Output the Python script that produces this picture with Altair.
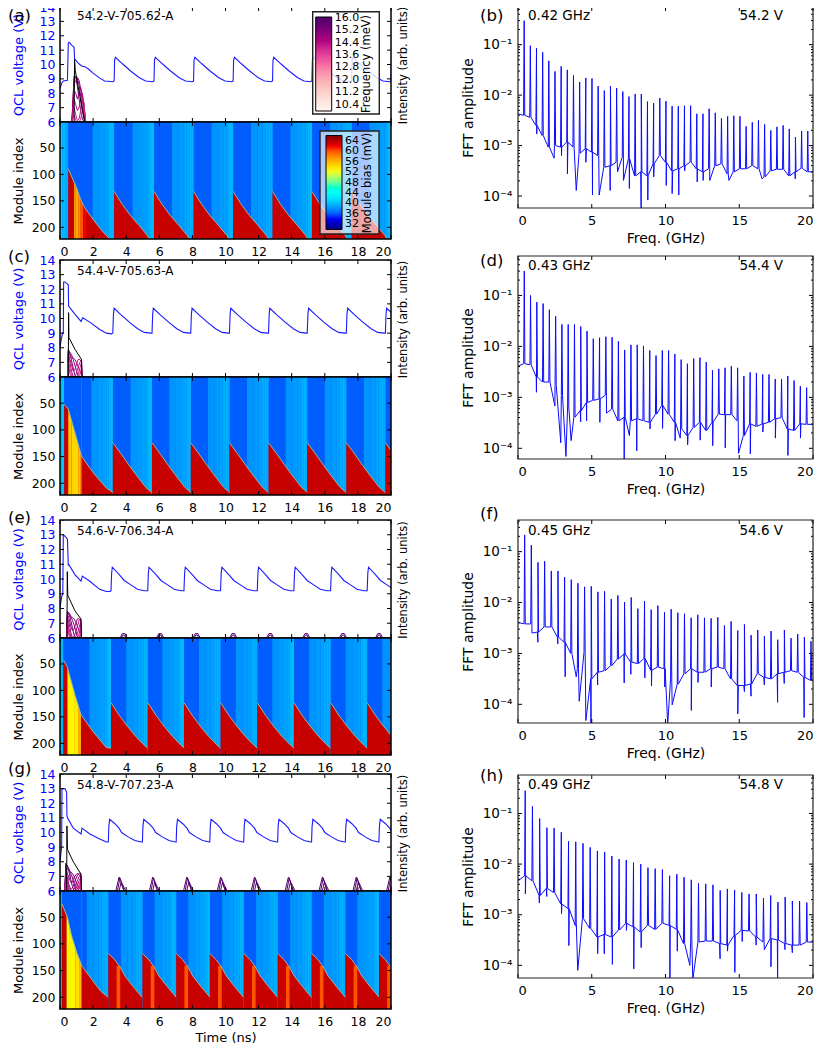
import altair as alt
import pandas as pd

FONT = "DejaVu Sans"
BLUE_LINE = "#1a1aff"
HEAT_BLUE = "#005eff"
HEAT_RED = "#c70000"
EDGE = "#93b9a6"
JET = ["#00007f", "#0000ff", "#00ffff", "#ffff00", "#ff0000", "#7f0000"]
JET_DOM = [30, 34.5, 43.5, 52.5, 61.5, 66]
RDPU = ["#fff7f3", "#fde0dd", "#fcc5c0", "#fa9fb5", "#f768a1", "#dd3497", "#ae017e", "#7a0177", "#49006a"]
W, FW = 331, 295
T_TICKS = [0, 2, 4, 6, 8, 10, 12, 14, 16, 18, 20]
V_TICKS = [6, 7, 8, 9, 10, 11, 12, 13, 14]
M_TICKS = [50, 100, 150, 200]
F_TICKS = [0, 5, 10, 15, 20]
DECADES = [0.1, 0.01, 0.001, 0.0001]
MINORS = [m * d for d in [0.1, 0.01, 0.001, 0.0001] for m in [2, 3, 4, 5, 6, 7, 8, 9]]
STRIPE_BACK = [1.3, 0.9, 0.6, 0.4, 0.25, 0.12, 0.05]
STRIPE_MV = [38.2, 38.5, 38.8, 39.2, 39.7, 40.2, 40.6]

# ---------- left column ----------
A = dict(
    tag="(a)", name="54.2-V-705.62-A", hv=115, hh=117, tagy=9, namey=9, period=2.39,
    jumps=[3.27, 5.68, 8.07, 10.46, 12.84, 15.22, 17.62, 20.0],
    st=[0, 0.1, 0.2, 0.45, 0.5, 0.55, 0.75, 0.85, 0.88, 1.1, 1.3, 1.5, 1.7, 2, 2.4, 2.7, 3.2],
    sv=[8.3, 8.7, 8.85, 8.9, 11.5, 11.55, 11.3, 11.2, 10.4, 10.1, 9.9, 9.85, 9.7, 9.4, 9.05, 8.85, 8.8],
    dt=[0, 0.03, 0.08, 0.5, 1.0, 1.5, 1.9, 2.3],
    dv=[8.85, 10.3, 10.5, 10.05, 9.55, 9.1, 8.85, 8.8],
    black_t=[0.85, 0.88, 0.92, 1.2, 1.5, 1.56], black_v=[6, 10.4, 9.6, 7.8, 6, 6],
    it=[0.72, 0.85, 0.95, 1.05, 1.15, 1.25, 1.35, 1.45, 1.55],
    il=[[6, 9.2, 9.1, 8.5, 7.6, 6.8, 6.2, 6, 6], [6, 9, 9.2, 9.0, 8.6, 7.8, 6.9, 6.2, 6],
        [6, 8.7, 8.8, 9.1, 8.9, 8.3, 7.5, 6.6, 6], [6, 8.2, 8.0, 7.6, 8, 8.4, 7.9, 7, 6],
        [6, 7.6, 7.2, 6.8, 7, 7.6, 8, 7.2, 6], [6, 7.0, 6.5, 6.1, 6.2, 6.8, 7.5, 7.4, 6],
        [6, 6.5, 6.1, 6, 6, 6.2, 6.8, 7, 6]],
    ifreq=[15.6, 15.2, 14.8, 14.6, 14.4, 14.2, 14.0],
    bumps=[], bump_dt=[], bump_v=[],
    front_t=[0.5, 0.8, 1.0, 1.2, 1.4, 1.7, 2, 2.5, 3.0], front_y=[89, 111, 125, 143, 158, 172, 185, 205, 222],
    tooth_dt=[0, 0.5, 1, 1.5, 2, 2.15], tooth_y=[132, 157, 178, 196, 215, 222],
    start_stripes=[(0, 0.15, 41), (0.15, 0.3, 40), (0.3, 0.5, 39.2)],
    bands=[(0.85, 0.95, 57), (0.95, 1.1, 56.5), (1.1, 1.25, 58), (1.25, 1.4, 60), (1.4, 1.6, 62)],
    hot=[],
)
C = dict(
    tag="(c)", name="54.4-V-705.63-A", hv=117, hh=118, tagy=-3, namey=11, period=2.34,
    jumps=[3.19, 5.56, 7.9, 10.24, 12.6, 14.94, 17.3, 19.66],
    st=[0, 0.05, 0.15, 0.2, 0.22, 0.3, 0.5, 0.52, 0.9, 1.27, 1.37, 1.8, 2.4, 2.8, 3.1],
    sv=[8.0, 8.4, 9.0, 9.0, 12.5, 12.5, 12.3, 10.85, 10.3, 9.8, 10.05, 9.75, 9.25, 9.0, 8.95],
    dt=[0, 0.04, 0.08, 0.5, 1.0, 1.5, 1.9, 2.29],
    dv=[9.0, 10.3, 10.7, 10.25, 9.75, 9.3, 9.05, 9.0],
    black_t=[0.5, 0.52, 0.54, 0.9, 1.3, 1.33], black_v=[6, 10.4, 8.7, 7.9, 7.2, 6],
    it=[0.47, 0.5, 0.6, 0.7, 0.8, 0.9, 1.0, 1.1, 1.2, 1.3, 1.33],
    il=[[6, 7.9, 7.6, 7.1, 6.6, 6.1, 6, 6, 6, 6, 6], [6, 7.8, 7.7, 7.5, 7.2, 6.8, 6.4, 6.1, 6, 6, 6],
        [6, 7.7, 7.5, 7.3, 7.3, 7.2, 7, 6.7, 6.4, 6.1, 6], [6, 7.6, 7.2, 6.8, 6.4, 6.5, 6.9, 7.2, 7.2, 7, 6],
        [6, 7.4, 7, 6.4, 6, 6, 6.3, 6.7, 7, 7.2, 6], [6, 7.2, 6.6, 6.1, 6, 6, 6, 6.2, 6.6, 7, 6],
        [6, 7.0, 6.2, 6, 6, 6, 6, 6, 6.2, 6.6, 6]],
    ifreq=[15.4, 15.0, 14.7, 14.5, 14.3, 14.1, 13.9],
    bumps=[], bump_dt=[], bump_v=[],
    front_t=[0.25, 0.5, 0.9, 1.3, 2.0, 2.8, 3.19], front_y=[52, 61, 105, 149, 180, 209, 217],
    tooth_dt=[0, 0.5, 1, 1.5, 2, 2.34], tooth_y=[124, 145, 167, 188, 208, 217],
    start_stripes=[(0, 0.1, 41.5), (0.1, 0.25, 40.5)],
    bands=[(0.5, 0.7, 55), (0.7, 1.1, 54.5), (1.1, 1.22, 55.5), (1.22, 1.3, 57)],
    hot=[],
)
E = dict(
    tag="(e)", name="54.6-V-706.34-A", hv=118, hh=117, tagy=-2, namey=11, period=2.21,
    jumps=[3.08, 5.3, 7.49, 9.7, 11.92, 14.13, 16.35, 18.56],
    st=[0, 0.1, 0.17, 0.2, 0.3, 0.45, 0.5, 0.52, 0.9, 1.27, 1.35, 1.8, 2.4, 2.8, 3.0],
    sv=[8.0, 8.8, 9.0, 13.0, 12.9, 12.7, 10.9, 11.0, 10.3, 9.85, 10.2, 9.85, 9.3, 9.15, 9.15],
    dt=[0, 0.04, 0.08, 0.5, 0.8, 1.2, 1.6, 2.0, 2.17],
    dv=[9.2, 10.4, 10.8, 10.3, 9.9, 9.6, 9.3, 9.2, 9.2],
    black_t=[0.42, 0.44, 0.47, 0.9, 1.27, 1.3], black_v=[6, 10.5, 8.9, 7.85, 7.28, 6],
    it=[0.4, 0.45, 0.55, 0.65, 0.75, 0.85, 0.95, 1.05, 1.15, 1.25, 1.3],
    il=[[6, 7.8, 7.6, 7.2, 6.7, 6.2, 6, 6, 6, 6, 6], [6, 7.8, 7.7, 7.5, 7.2, 6.9, 6.5, 6.1, 6, 6, 6],
        [6, 7.7, 7.6, 7.4, 7.4, 7.3, 7.1, 6.8, 6.5, 6.2, 6], [6, 7.6, 7.3, 6.8, 6.5, 6.6, 7, 7.3, 7.3, 7.2, 6],
        [6, 7.4, 7, 6.4, 6, 6.1, 6.4, 6.8, 7.2, 7.3, 6], [6, 7.2, 6.6, 6.1, 6, 6, 6.1, 6.3, 6.7, 7.1, 6],
        [6, 7.0, 6.3, 6, 6, 6, 6, 6, 6.3, 6.8, 6], [6, 6.8, 6.1, 6, 6, 6, 6, 6, 6, 6.4, 6]],
    ifreq=[15.6, 15.3, 15.0, 14.8, 14.6, 14.4, 14.2, 14.0],
    bumps=[3.85, 6.05, 8.25, 10.47, 12.7, 14.88, 17.1, 19.28],
    bump_dt=[[-0.22, -0.08, 0.08, 0.22], [-0.14, -0.05, 0.05, 0.14]],
    bump_v=[[6, 6.3, 6.3, 6], [6, 6.2, 6.2, 6]],
    front_t=[0.2, 0.45, 0.9, 1.27, 2.0, 2.8, 3.08], front_y=[42, 57, 108, 146, 178, 208, 209],
    tooth_dt=[0, 0.5, 1, 1.5, 2, 2.21], tooth_y=[123, 147, 168, 187, 203, 209],
    start_stripes=[(0, 0.1, 41), (0.1, 0.2, 40)],
    bands=[(0.45, 0.9, 53), (0.9, 1.1, 53.5), (1.1, 1.2, 55), (1.2, 1.27, 56.5)],
    hot=[],
)
G = dict(
    tag="(g)", name="54.8-V-707.23-A", hv=117, hh=118, tagy=-5, namey=11, period=2.04,
    jumps=[2.92, 4.98, 7.02, 9.05, 11.1, 13.15, 15.2, 17.24, 19.27],
    st=[0, 0.1, 0.12, 0.3, 0.4, 0.42, 0.45, 0.8, 1.27, 1.33, 1.8, 2.4, 2.8, 2.9],
    sv=[8.0, 9.0, 13.0, 13.0, 12.75, 11.15, 11.0, 10.3, 9.9, 10.3, 9.9, 9.55, 9.35, 9.35],
    dt=[0, 0.03, 0.08, 0.4, 0.65, 0.8, 1.2, 1.6, 2.0],
    dv=[9.35, 10.4, 10.9, 10.6, 10.3, 10.0, 9.7, 9.45, 9.35],
    black_t=[0.4, 0.42, 0.45, 0.8, 1.27, 1.3], black_v=[6, 10.45, 8.85, 8.0, 7.15, 6],
    it=[0.3, 0.35, 0.45, 0.55, 0.65, 0.75, 0.85, 0.95, 1.05, 1.15, 1.25, 1.3],
    il=[[6, 7.9, 7.7, 7.3, 6.8, 6.3, 6, 6, 6, 6, 6, 6], [6, 7.8, 7.7, 7.5, 7.2, 6.9, 6.5, 6.1, 6, 6, 6, 6],
        [6, 7.6, 7.5, 7.4, 7.3, 7.2, 7.0, 6.7, 6.4, 6.2, 6.1, 6], [6, 7.5, 7.2, 6.9, 6.6, 6.6, 6.9, 7.1, 7.2, 7.1, 7.0, 6],
        [6, 7.3, 6.9, 6.4, 6.1, 6.2, 6.5, 6.8, 7.1, 7.2, 7.2, 6], [6, 7.1, 6.6, 6.2, 6, 6, 6.1, 6.4, 6.7, 7, 7.1, 6],
        [6, 6.9, 6.3, 6, 6, 6, 6, 6.1, 6.4, 6.7, 6.9, 6], [6, 6.7, 6.1, 6, 6, 6, 6, 6, 6.1, 6.4, 6.7, 6],
        [6, 6.5, 6, 6, 6, 6, 6, 6, 6, 6.2, 6.5, 6], [6, 6.3, 6.6, 6.9, 7.1, 7.0, 6.7, 6.4, 6.2, 6.1, 6.3, 6]],
    ifreq=[15.8, 15.6, 15.4, 15.2, 15.0, 14.8, 14.6, 14.4, 14.2, 14.0],
    bumps=[3.57, 5.6, 7.66, 9.7, 11.75, 13.8, 15.85, 17.9, 19.93],
    bump_dt=[[-0.2, 0, 0.15, 0.4], [-0.1, 0.05, 0.2, 0.3], [0, 0.12, 0.3]],
    bump_v=[[6, 6.95, 6.6, 6], [6, 6.9, 6.3, 6], [6, 6.6, 6]],
    front_t=[0.12, 0.2, 0.45, 0.7, 1.0, 1.3, 2, 2.5, 2.92], front_y=[25, 31, 50, 85, 115, 140, 170, 190, 200],
    tooth_dt=[0, 0.4, 0.7, 1, 1.5, 2.04], tooth_y=[118, 130, 143, 160, 180, 200],
    start_stripes=[(0, 0.1, 41), (0.1, 0.2, 40)],
    bands=[(0.4, 0.6, 52.5), (0.6, 0.95, 53), (0.95, 1.15, 54), (1.15, 1.3, 56)],
    hot=[(0.5, 0.72, 141, 60)],
)

# ---------- right column (log10 values) ----------
B = dict(
    tag="(b)", tagy=9, f0=0.418, ghz="0.42 GHz", volt="54.2 V", h=201, dom=[-4.237, -0.254], texty=9,
    start=-2.37,
    peaks=[-.525, -1.02, -1.07, -1.15, -1.32, -1.53, -1.43, -1.50, -1.61, -1.74, -1.66, -1.67, -1.82, -1.91, -1.82, -1.86,
           -1.93, -2.03, -1.98, -1.98, -2.13, -2.16, -2.06, -2.12, -2.22, -2.22, -2.21, -2.21, -2.37, -2.37, -2.27, -2.35,
           -2.46, -2.42, -2.41, -2.42, -2.62, -2.54, -2.50, -2.58, -2.70, -2.63, -2.60, -2.67, -2.83, -2.71, -2.71],
    floors=[-2.4, -2.44, -2.6, -2.8, -3.03, -3.0, -3.03, -2.93, -3.03, -3.15, -3.06, -3.13, -3.2, -3.43, -3.4, -3.33,
            -3.23, -3.26, -3.6, -3.52, -3.6, -3.36, -3.2, -3.33, -3.5, -3.46, -3.4, -3.33, -3.46, -3.52, -3.46, -3.4,
            -3.36, -3.56, -3.52, -3.46, -3.46, -3.4, -3.46, -3.62, -3.5, -3.47, -3.47, -3.6, -3.52, -3.45, -3.52],
    dip_f=[1.27, 2.45, 2.95, 3.35, 3.95, 4.6, 5.05, 5.5, 6.25, 6.75, 7.15, 7.55, 8.35, 8.8, 9.2, 10.05, 10.45, 10.9, 11.3,
           12.15, 12.55, 13, 14.3, 16.55, 18.8],
    dip_v=[-2.77, -3.25, -3.2, -3.56, -3.89, -3.33, -3.98, -3.98, -3.89, -3.52, -3.69, -3.85, -4.25, -4.08, -3.62, -3.79,
           -3.95, -3.98, -3.5, -3.72, -3.69, -3.69, -3.69, -3.66, -3.66],
)
D = dict(
    tag="(d)", tagy=5, f0=0.4254, ghz="0.43 GHz", volt="54.4 V", h=203, dom=[-4.21, -0.226], texty=10,
    start=-2.39,
    peaks=[-.52, -1.0, -1.13, -1.16, -1.28, -1.41, -1.57, -1.57, -1.57, -1.61, -1.70, -1.85, -1.83, -1.81, -1.82, -1.90,
           -2.07, -1.97, -1.97, -1.99, -2.08, -2.18, -2.08, -2.08, -2.15, -2.26, -2.34, -2.24, -2.22, -2.31, -2.47, -2.44,
           -2.42, -2.39, -2.42, -2.58, -2.51, -2.52, -2.55, -2.55, -2.64, -2.64, -2.58, -2.67, -2.78, -2.81],
    floors=[-2.34, -2.36, -2.6, -2.7, -2.7, -2.77, -2.96, -3.19, -3.39, -3.26, -3.1, -3.06, -3.03, -2.96, -3.23, -3.46,
            -3.39, -3.46, -3.42, -3.46, -3.49, -3.33, -3.16, -3.33, -3.49, -3.62, -3.75, -3.59, -3.49, -3.65, -3.49, -3.33,
            -3.34, -3.34, -3.46, -3.75, -3.52, -3.57, -3.52, -3.49, -3.42, -3.4, -3.62, -3.65, -3.52, -3.53],
    dip_f=[1.25, 2.5, 2.9, 3.25, 3.6, 4.25, 4.65, 5.55, 6, 7.2, 7.55, 8.05, 8.95, 9.8, 10.65, 11, 11.5, 12.35, 13.2, 14.05,
           14.95, 15.75, 16.6, 17.45, 18.3, 19.15],
    dip_v=[-2.9, -3.17, -3.89, -4.16, -3.85, -3.48, -3.46, -3.49, -3.31, -4.21, -3.75, -4.05, -3.62, -3.61, -3.85, -3.8,
           -3.93, -3.84, -3.95, -3.99, -4.1, -4.11, -3.68, -3.8, -4.14, -3.8],
)
Fp = dict(
    tag="(f)", tagy=-6, f0=0.4515, ghz="0.45 GHz", volt="54.6 V", h=203, dom=[-4.367, -0.378], texty=11,
    start=-2.39,
    peaks=[-.67, -.87, -1.21, -1.19, -1.38, -1.38, -1.50, -1.55, -1.62, -1.69, -1.68, -1.79, -1.78, -1.93, -1.86, -1.99,
           -1.9, -2.12, -1.97, -2.14, -2.06, -2.19, -2.13, -2.2, -2.22, -2.3, -2.24, -2.3, -2.31, -2.29, -2.45, -2.37,
           -2.55, -2.43, -2.64, -2.54, -2.66, -2.56, -2.73, -2.54, -2.7, -2.62, -2.68, -2.76],
    floors=[-2.42, -2.42, -2.58, -2.48, -2.48, -2.68, -2.78, -3.0, -3.3, -2.98, -3.5, -3.37, -3.34, -3.24, -3.11, -3.01,
            -3.17, -3.2, -3.1, -3.33, -3.27, -3.3, -3.5, -3.6, -3.4, -3.3, -3.37, -3.37, -3.3, -3.27, -3.3, -3.5,
            -3.63, -3.63, -3.6, -3.4, -3.47, -3.5, -3.4, -3.37, -3.34, -3.37, -3.47, -3.53],
    dip_f=[0.95, 1.35, 2.7, 3.2, 3.95, 4.15, 4.6, 4.95, 5.4, 7.2, 7.65, 8.6, 9.05, 9.95, 10.15, 10.45, 10.85, 11.75, 12.2,
           13.1, 14.9, 15.35, 15.8, 16.7, 17.6, 18.05, 19.4],
    dip_v=[-2.6, -2.78, -2.81, -3.46, -3.46, -3.94, -4.32, -4.42, -3.62, -3.58, -3.41, -3.48, -3.64, -3.66, -4.39, -4.01,
           -3.6, -4.12, -3.57, -3.66, -4.19, -3.75, -3.84, -3.62, -3.96, -3.59, -4.26],
)
Hp = dict(
    tag="(h)", tagy=1, f0=0.4895, ghz="0.49 GHz", volt="54.8 V", h=203, dom=[-4.25, -0.24], texty=10,
    start=-2.33,
    peaks=[-.55, -.86, -1.1, -1.28, -1.29, -1.37, -1.55, -1.56, -1.59, -1.67, -1.74, -1.76, -1.84, -1.9, -1.92, -1.97,
           -2.0, -2.07, -2.09, -2.11, -2.23, -2.2, -2.26, -2.31, -2.38, -2.39, -2.41, -2.52, -2.49, -2.51, -2.56, -2.59,
           -2.59, -2.67, -2.62, -2.75, -2.65, -2.73, -2.73, -2.76],
    floors=[-2.23, -2.33, -2.62, -2.48, -2.56, -2.79, -2.88, -3.21, -3.08, -3.27, -3.44, -3.39, -3.44, -3.3, -3.17, -3.24,
            -3.34, -3.21, -3.29, -3.17, -3.21, -3.29, -3.57, -3.54, -3.54, -3.52, -3.52, -3.57, -3.6, -3.41, -3.31, -3.32,
            -3.44, -3.54, -3.47, -3.5, -3.57, -3.6, -3.6, -3.54],
    dip_f=[0.5, 1.45, 1.95, 2.95, 3.45, 3.95, 4.05, 5.4, 5.85, 6.4, 7.35, 7.85, 8.35, 10.3, 10.8, 11.65, 11.85, 13.7, 14.2,
           14.7, 15.2, 16.15, 16.7, 17.15, 17.6, 18.1, 18.6],
    dip_v=[-2.59, -2.77, -2.64, -2.98, -3.61, -3.24, -4.1, -3.77, -3.77, -3.98, -3.31, -4.07, -3.65, -4.26, -3.72, -4.0,
           -4.28, -3.87, -3.72, -4.14, -3.53, -3.6, -3.69, -4.03, -4.26, -3.69, -3.75],
)

ONE = pd.DataFrame({"a": [0]})


def value_box(x0, x1, y0, y1, **mk):
    return alt.Chart(ONE).mark_rect(**mk).encode(
        x=alt.value(x0), x2=alt.value(x1), y=alt.value(y0), y2=alt.value(y1))


def note(text, x, y, size=12, angle=0, color="black", align="left"):
    mk = dict(font=FONT, fontSize=size, color=color, align=align, baseline="middle", angle=angle)
    return alt.Chart(ONE).mark_text(**mk).encode(x=alt.value(x), y=alt.value(y), text=alt.value(text))


def xticks(vals, xs, xa, h, L=4):
    df = pd.DataFrame({"x": vals})
    return [alt.Chart(df).mark_rule(color="black", strokeWidth=1).encode(
        x=alt.X("x:Q", scale=xs, axis=xa), y=alt.value(a), y2=alt.value(b))
        for a, b in [(0, L), (h - L, h)]]


def yticks(vals, ys, ya, w, L=4):
    df = pd.DataFrame({"y": vals})
    return [alt.Chart(df).mark_rule(color="black", strokeWidth=1, clip=True).encode(
        x=alt.value(a), x2=alt.value(b), y=alt.Y("y:Q", scale=ys, axis=ya))
        for a, b in [(0, L), (w - L, w)]]


def voltage_panel(p, legend):
    H = p["hv"]
    xs = alt.Scale(domain=[0, 20], nice=False, zero=False)
    ys = alt.Scale(domain=[6, 14], nice=False, zero=False)
    ya = alt.Axis(values=V_TICKS, title="QCL voltage (V)", titleColor="#0000ff", labelColor="#0000ff", ticks=False,
                  domain=False, grid=False, labelFontSize=12.5, titleFontSize=13, labelPadding=5, titleX=-35,
                  titleFontWeight="normal", format="d", labelOverlap=False, labelBound=False)
    ts, vs = list(p["st"]), list(p["sv"])
    for j in p["jumps"]:
        for d, v in zip(p["dt"], p["dv"]):
            ts.append(j + d)
            vs.append(v)
    vdf = pd.DataFrame({"t": ts, "v": vs})
    vdf["i"] = range(len(vdf))
    rows = []
    for g, (line, fr) in enumerate(zip(p["il"], p["ifreq"])):
        for t, v in zip(p["it"], line):
            rows.append({"t": t, "v": v, "f": fr, "g": f"s{g}"})
    for c in p["bumps"]:
        for g, (dts, dvs) in enumerate(zip(p["bump_dt"], p["bump_v"])):
            for d, v in zip(dts, dvs):
                rows.append({"t": c + d, "v": v, "f": 15.9, "g": f"b{c}-{g}"})
    idf = pd.DataFrame(rows)
    idf["i"] = range(len(idf))
    lg = alt.Legend(
        orient="none", legendX=255.7, legendY=10, title=None, gradientLength=94, gradientThickness=16,
        gradientStrokeColor="black", gradientStrokeWidth=1, values=[10.4, 11.2, 12.0, 12.8, 13.6, 14.4, 15.2, 16.0],
        format=".1f", labelFont=FONT, labelFontSize=11, labelColor="black", labelOffset=3, padding=0,
        labelOverlap=False, direction="vertical") if legend else None
    lines = alt.Chart(idf).mark_line(strokeWidth=1, clip=True).encode(
        x=alt.X("t:Q", scale=xs, axis=None), y=alt.Y("v:Q", scale=ys, axis=ya),
        color=alt.Color("f:Q", scale=alt.Scale(domain=[10, 16.05], range=RDPU, nice=False), legend=lg),
        detail="g:N", order="i:Q")
    black = alt.Chart(pd.DataFrame({"t": p["black_t"], "v": p["black_v"]})).mark_line(
        color="black", strokeWidth=1, clip=True).encode(
        x=alt.X("t:Q", scale=xs, axis=None), y=alt.Y("v:Q", scale=ys, axis=ya))
    volt = alt.Chart(vdf).mark_line(color=BLUE_LINE, strokeWidth=1.1, clip=True).encode(
        x=alt.X("t:Q", scale=xs, axis=None), y=alt.Y("v:Q", scale=ys, axis=ya), order="i:Q")
    layers = [lines, black, volt]
    if legend:
        layers += [value_box(252.7, 319.3, 4.7, 107, fill="white", fillOpacity=0.82, stroke="#222222", strokeWidth=1.4),
                   note("Frequency (meV)", 307, 57, 11.5, 270, align="center")]
    layers += xticks(T_TICKS, xs, None, H) + yticks(V_TICKS, ys, ya, W)
    layers += [note(p["name"], 17, p["namey"], 12),
               note(p["tag"], -52, p["tagy"], 16.5),
               note("Intensity (arb. units)", W + 13, H / 2 + 1, 11.5, 270, align="center"),
               value_box(0, W, 0, H, filled=False, stroke="black", strokeWidth=1.5)]
    return alt.layer(*layers).properties(width=W, height=H)


def heat_panel(p, legend, x_title=None):
    H = p["hh"]
    xs = alt.Scale(domain=[0, 20], nice=False, zero=False)
    ys = alt.Scale(domain=[222, 1], nice=False, zero=False)
    cs = alt.Scale(domain=JET_DOM, range=JET)
    xa = alt.Axis(values=T_TICKS, title=x_title, ticks=False, domain=False, grid=False, labelFontSize=12.5,
                  titleFontSize=13, labelPadding=6, titleFontWeight="normal", labelOverlap=False, labelBound=False,
                  format="d", titlePadding=4)
    ya = alt.Axis(values=M_TICKS, title="Module index", ticks=False, domain=False, grid=False, labelFontSize=12.5,
                  titleFontSize=13, labelPadding=5, titleX=-35, titleFontWeight="normal", labelOverlap=False)
    rows = [{"t0": a, "t1": b, "mv": m} for a, b, m in p["start_stripes"]]
    J = p["jumps"] + [p["jumps"][-1] + p["period"]]
    for j in J:
        edges = [j - b for b in STRIPE_BACK] + [j]
        for k, m in enumerate(STRIPE_MV):
            rows.append({"t0": edges[k], "t1": edges[k + 1], "mv": m})
    lg = alt.Legend(
        orient="none", legendX=266, legendY=13.5, title=None, gradientLength=94, gradientThickness=16,
        gradientStrokeColor="black", gradientStrokeWidth=1, values=[32, 36, 40, 44, 48, 52, 56, 60, 64],
        labelFont=FONT, labelFontSize=11, labelColor="black", labelOffset=3, padding=0, labelOverlap=False,
        direction="vertical") if legend else None
    base = value_box(0, W, 0, H, fill=HEAT_BLUE)
    stripes = alt.Chart(pd.DataFrame(rows)).mark_rect(clip=True).encode(
        x=alt.X("t0:Q", scale=xs, axis=xa), x2="t1:Q",
        y=alt.value(0), y2=alt.value(H),
        color=alt.Color("mv:Q", scale=cs, legend=lg))
    # red fronts
    rows = [{"t": t, "m": m, "g": "s"} for t, m in zip(p["front_t"], p["front_y"])]
    for j in p["jumps"]:
        for d, m in zip(p["tooth_dt"], p["tooth_y"]):
            rows.append({"t": j + d, "m": m, "g": f"t{j}"})
    fdf = pd.DataFrame(rows)
    fdf["i"] = range(len(fdf))
    red = alt.Chart(fdf).mark_area(color=HEAT_RED, clip=True).encode(
        x=alt.X("t:Q", scale=xs, axis=xa), y=alt.Y("m:Q", scale=ys, axis=ya),
        y2=alt.Y2(datum=222), detail="g:N")
    band_rows = [{"b0": a, "b1": b, "mv": m} for a, b, m in p["bands"]]
    bands = alt.Chart(pd.DataFrame(band_rows)).mark_rect(clip=True).encode(
        x=alt.X("b0:Q", scale=xs, axis=xa), x2="b1:Q",
        y=alt.value(0), y2=alt.value(H), color=alt.Color("mv:Q", scale=cs, legend=None))
    end = p["bands"][-1][1]
    mdf = pd.DataFrame({"t": p["front_t"], "m": p["front_y"]})
    mdf = mdf[mdf.t <= end + 0.35]
    mask = alt.Chart(mdf).mark_area(color=HEAT_BLUE, clip=True).encode(
        x=alt.X("t:Q", scale=xs, axis=xa), y=alt.Y("m:Q", scale=ys, axis=ya), y2=alt.Y2(datum=1))
    edge = alt.Chart(fdf).mark_line(color=EDGE, strokeWidth=1, clip=True).encode(
        x=alt.X("t:Q", scale=xs, axis=xa), y=alt.Y("m:Q", scale=ys, axis=ya), detail="g:N", order="i:Q")
    layers = [base, stripes, red, bands, mask, edge]
    if p["hot"]:
        hrows = []
        for j in p["jumps"]:
            for a, b, m, c in p["hot"]:
                hrows.append({"h0": j + a, "h1": j + b, "m": m, "mv": c})
        layers.insert(4, alt.Chart(pd.DataFrame(hrows)).mark_rect(clip=True).encode(
            x=alt.X("h0:Q", scale=xs, axis=xa), x2="h1:Q",
            y=alt.Y("m:Q", scale=ys, axis=ya), y2=alt.Y2(datum=222),
            color=alt.Color("mv:Q", scale=cs, legend=None)))
    if legend:
        layers += [value_box(260, 319, 9, 112, fill="white", fillOpacity=0.65, stroke="#222222", strokeWidth=1.4),
                   note("Module bias (mV)", 308, 61, 11.5, 270, align="center")]
    layers += xticks(T_TICKS, xs, xa, H) + yticks(M_TICKS, ys, ya, W)
    layers += [value_box(0, W, 0, H, filled=False, stroke="black", strokeWidth=1.5)]
    return alt.layer(*layers).properties(width=W, height=H)


def fft_panel(p):
    H = p["h"]
    xs = alt.Scale(domain=[0, 20], nice=False, zero=False)
    ys = alt.Scale(type="log", domain=[10 ** p["dom"][0], 10 ** p["dom"][1]], nice=False)
    pts = [(0.0, p["start"])]
    for k, (pk, fl) in enumerate(zip(p["peaks"], p["floors"]), start=1):
        f = k * p["f0"]
        pts += [(f - 0.04, fl), (f, pk), (f + 0.04, fl)]
    pts += [(20.0, p["floors"][-1])]
    pts += list(zip(p["dip_f"], p["dip_v"]))
    pts.sort(key=lambda a: a[0])
    df = pd.DataFrame({"f": [a for a, _ in pts], "v": [10 ** b for _, b in pts]})
    expr = "datum.value > 0.05 ? '10⁻¹' : datum.value > 0.005 ? '10⁻²' : datum.value > 0.0005 ? '10⁻³' : '10⁻⁴'"
    xa = alt.Axis(values=F_TICKS, title="Freq. (GHz)", ticks=False, domain=False, grid=False, labelFontSize=13,
                  titleFontSize=14, labelPadding=6, titleFontWeight="normal", format="d", labelOverlap=False,
                  labelBound=False, titlePadding=4)
    ya = alt.Axis(values=DECADES, title="FFT amplitude", ticks=False, domain=False, grid=False, labelFontSize=13.5,
                  titleFontSize=14, labelPadding=6, titleX=-43, titleFontWeight="normal", labelExpr=expr,
                  labelOverlap=False)
    line = alt.Chart(df).mark_line(color="#0a0aff", strokeWidth=1, clip=True).encode(
        x=alt.X("f:Q", scale=xs, axis=xa), y=alt.Y("v:Q", scale=ys, axis=ya))
    layers = [line] + xticks(F_TICKS, xs, xa, H) + yticks(DECADES, ys, ya, FW) + yticks(MINORS, ys, ya, FW, L=2)
    layers += [note(p["ghz"], 10, p["texty"], 13.5), note(p["volt"], 221.5, p["texty"], 13.5),
               note(p["tag"], -38, p["tagy"], 16.5),
               value_box(0, FW, 0, H, filled=False, stroke="#222222", strokeWidth=1.2)]
    return alt.layer(*layers).properties(width=FW, height=H)


def spacer(w, h):
    return alt.Chart(ONE).mark_point(opacity=0).encode(x=alt.value(0)).properties(width=w, height=h)


left = alt.vconcat(
    voltage_panel(A, True), heat_panel(A, True), spacer(W, 21),
    voltage_panel(C, False), heat_panel(C, False), spacer(W, 25),
    voltage_panel(E, False), heat_panel(E, False), spacer(W, 19),
    voltage_panel(G, False), heat_panel(G, False, "Time (ns)"),
    spacing=0, bounds="flush").resolve_scale(color="independent", x="independent", y="independent")
right = alt.vconcat(
    fft_panel(B), spacer(FW, 48), fft_panel(D), spacer(FW, 61), fft_panel(Fp), spacer(FW, 52), fft_panel(Hp),
    spacing=0, bounds="flush").resolve_scale(x="independent", y="independent")

chart = alt.hconcat(left, right, spacing=458, bounds="flush").properties(
    padding={"left": 0, "top": -7, "right": 6, "bottom": 2}
).configure_view(strokeWidth=0).configure_axis(labelFont=FONT, titleFont=FONT, labelColor="black", titleColor="black")

chart.save("out.html", embed_options={"renderer": "svg", "actions": False})
